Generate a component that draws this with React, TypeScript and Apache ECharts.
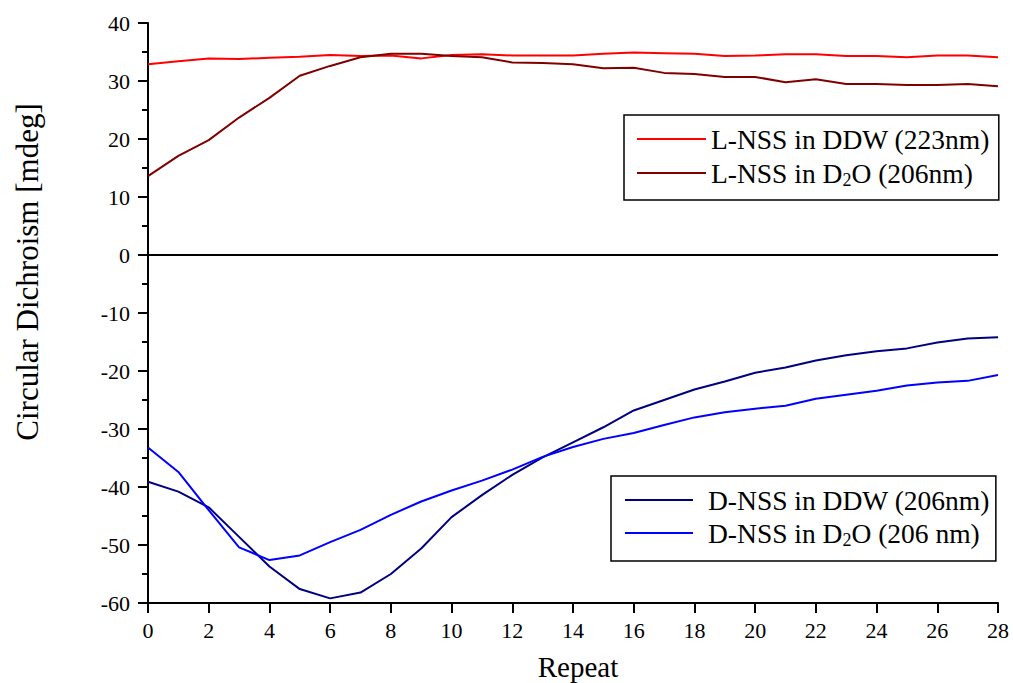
import React, { useEffect, useRef } from 'react';
import * as echarts from 'echarts';

const repeats = [0, 1, 2, 3, 4, 5, 6, 7, 8, 9, 10, 11, 12, 13, 14, 15, 16, 17, 18, 19, 20, 21, 22, 23, 24, 25, 26, 27, 28];

const lDDW = [32.9, 33.4, 33.9, 33.8, 34.0, 34.2, 34.5, 34.3, 34.4, 33.9, 34.5, 34.6, 34.4, 34.4, 34.4, 34.7, 34.9, 34.8, 34.7, 34.3, 34.4, 34.6, 34.6, 34.3, 34.3, 34.1, 34.4, 34.4, 34.1];
const lD2O = [13.6, 17.1, 19.8, 23.7, 27.1, 30.9, 32.6, 34.1, 34.7, 34.7, 34.3, 34.1, 33.2, 33.1, 32.9, 32.2, 32.3, 31.4, 31.2, 30.7, 30.7, 29.8, 30.3, 29.5, 29.5, 29.3, 29.3, 29.5, 29.1];
const dDDW = [-39.1, -40.8, -43.5, -48.6, -53.7, -57.6, -59.2, -58.2, -55.0, -50.6, -45.2, -41.4, -37.9, -34.9, -32.3, -29.7, -26.8, -25.0, -23.2, -21.8, -20.3, -19.4, -18.2, -17.3, -16.6, -16.1, -15.1, -14.4, -14.2];
const dD2O = [-33.2, -37.4, -44.0, -50.4, -52.6, -51.8, -49.5, -47.4, -44.8, -42.5, -40.6, -38.9, -37.0, -34.8, -33.1, -31.7, -30.7, -29.3, -28.0, -27.1, -26.5, -26.0, -24.8, -24.1, -23.4, -22.5, -22.0, -21.7, -20.7];

const seriesNames = [
  'L-NSS in DDW (223nm)',
  'L-NSS in D2O (206nm)',
  'D-NSS in DDW (206nm)',
  'D-NSS in D2O (206 nm)',
];
const seriesColors = ['#ff0000', '#800000', '#000080', '#0000ff'];
const seriesValues = [lDDW, lD2O, dDDW, dD2O];

const FONT = "'Liberation Serif', 'Times New Roman', 'DejaVu Serif', serif";

const legendFormatter = (name: string) =>
  name.includes('D2O') ? name.replace('D2O', 'D{s|2}O') : name;

const legendRich = {
  s: { fontSize: 18, fontFamily: FONT, color: '#000', padding: [14, 0, 0, 0] },
};

// line sample 68px long followed by a wider gap before the text (second legend)
const gapLineIcon = 'path://M0,0 H68 V2 H0 Z M77.99,0 H78 V2 H77.99 Z';

export default function App() {
  const ref = useRef<HTMLDivElement>(null);
  useEffect(() => {
    const chart = echarts.init(ref.current!, null, { renderer: 'svg' });
    chart.setOption({
      animation: false,
      backgroundColor: '#ffffff',
      textStyle: { fontFamily: FONT },
      grid: { left: 148, right: 15, top: 23, bottom: 80, containLabel: false },
      xAxis: {
        type: 'value',
        min: 0,
        max: 28,
        interval: 2,
        axisLine: { show: true, onZero: false, lineStyle: { color: '#000', width: 2 } },
        axisTick: { show: true, length: 10, lineStyle: { color: '#000', width: 2 } },
        axisLabel: { color: '#000', fontFamily: FONT, fontSize: 22, margin: 16 },
        splitLine: { show: false },
      },
      yAxis: {
        type: 'value',
        min: -60,
        max: 40,
        interval: 10,
        axisLine: { show: true, onZero: false, lineStyle: { color: '#000', width: 2 } },
        axisTick: { show: true, length: 10, lineStyle: { color: '#000', width: 2 } },
        minorTick: { show: true, splitNumber: 2, length: 6, lineStyle: { color: '#000', width: 2 } },
        axisLabel: { color: '#000', fontFamily: FONT, fontSize: 22, margin: 18 },
        splitLine: { show: false },
      },
      legend: [
        {
          data: [seriesNames[0], seriesNames[1]],
          orient: 'vertical',
          left: 624,
          top: 115,
          padding: [10, 9, 11, 13],
          icon: 'rect',
          itemWidth: 69,
          itemHeight: 2,
          itemGap: 6,
          borderColor: '#000',
          borderWidth: 1.5,
          borderRadius: 0,
          formatter: legendFormatter,
          textStyle: { color: '#000', fontFamily: FONT, fontSize: 27.5, lineHeight: 28, rich: legendRich },
        },
        {
          data: [seriesNames[2], seriesNames[3]],
          orient: 'vertical',
          left: 611,
          top: 476,
          padding: [10, 6, 12, 14],
          icon: gapLineIcon,
          itemWidth: 78,
          itemHeight: 2,
          itemGap: 5,
          borderColor: '#000',
          borderWidth: 1.5,
          borderRadius: 0,
          formatter: legendFormatter,
          textStyle: { color: '#000', fontFamily: FONT, fontSize: 27.5, lineHeight: 28, rich: legendRich },
        },
      ],
      graphic: [
        {
          type: 'text',
          x: 27,
          y: 272,
          rotation: Math.PI / 2,
          style: {
            text: 'Circular Dichroism [mdeg]',
            fontFamily: FONT,
            fontSize: 31,
            fill: '#000',
            textAlign: 'center',
            textVerticalAlign: 'middle',
          },
        },
        {
          type: 'text',
          x: 578,
          y: 667,
          style: {
            text: 'Repeat',
            fontFamily: FONT,
            fontSize: 29,
            fill: '#000',
            textAlign: 'center',
            textVerticalAlign: 'middle',
          },
        },
      ],
      series: seriesNames.map((name, si) => ({
        type: 'line',
        name,
        symbol: 'none',
        color: seriesColors[si],
        lineStyle: { color: seriesColors[si], width: 2 },
        data: repeats.map((x, i) => [x, seriesValues[si][i]]),
        ...(si === 0
          ? {
              markLine: {
                silent: true,
                symbol: ['none', 'none'],
                label: { show: false },
                lineStyle: { color: '#000', width: 2, type: 'solid' },
                data: [{ yAxis: 0 }],
              },
            }
          : {}),
      })),
    });
    return () => chart.dispose();
  }, []);
  return (
    <div
      ref={ref}
      style={{ position: 'fixed', left: 0, top: 0, width: 1013, height: 683, background: '#fff' }}
    />
  );
}
